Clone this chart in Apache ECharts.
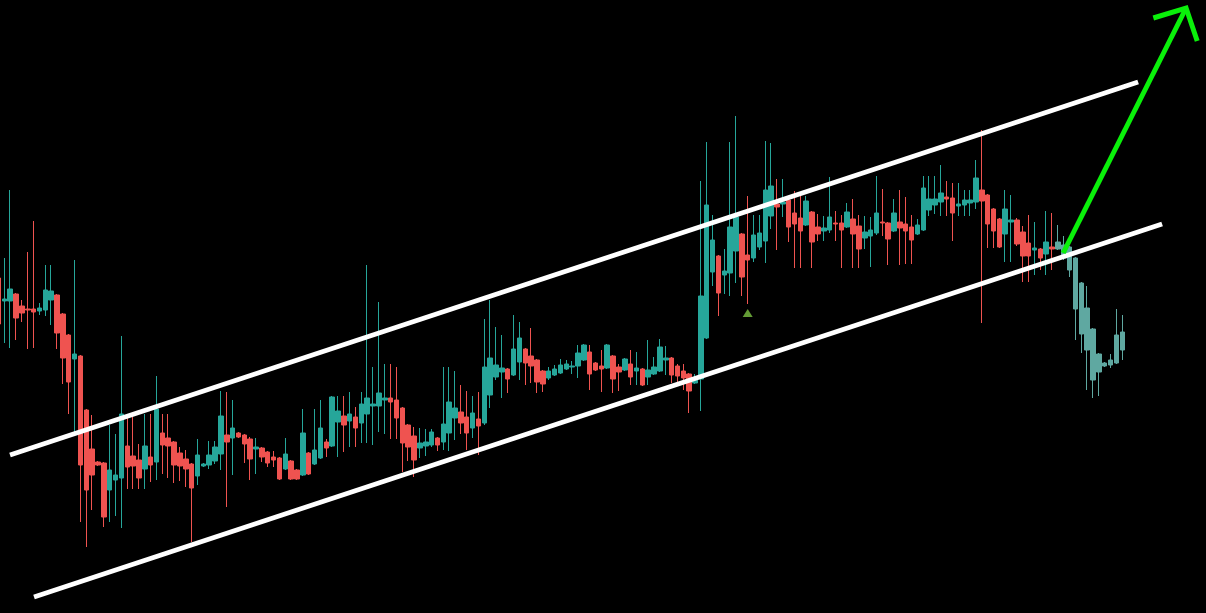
<!DOCTYPE html>
<html>
<head>
<meta charset="utf-8">
<style>
html,body{margin:0;padding:0;background:#000;}
#chart{width:1206px;height:613px;}
</style>
<script src="https://cdn.jsdelivr.net/npm/echarts@6/dist/echarts.min.js"></script>
</head>
<body>
<div id="chart"></div>
<script>
// Candle values (price units)
const opens = [335,312,312,319,307,304,304,302,303,313,
318,299,278,254,257,203,164,151,150,123,
133,135,167,157,153,144,156,151,180,175,
171,160,154,149,137,147,148,152,159,178,
175,180,178,174,164,165,161,156,155,144,
152,143,138,160,149,155,171,167,191,197,
192,196,190,199,207,207,213,215,213,205,
188,177,165,167,168,175,171,180,195,201,
196,185,194,190,218,236,241,244,238,251,
264,257,253,242,235,238,240,244,246,247,
253,261,250,247,245,257,246,243,249,242,
244,236,239,242,253,255,247,242,239,230,
234,275,341,357,338,340,362,379,358,355,
366,372,397,409,409,413,400,395,388,401,
386,382,383,390,390,386,394,387,375,377,
380,391,390,382,391,389,386,379,383,403,
408,411,416,415,407,408,410,411,423,418,
404,394,379,391,393,381,370,363,364,359,
366,364,368,366,355,330,305,284,259,250,
248,250,263];
const closes = [289,314,324,295,300,303,301,305,323,322,
280,255,231,259,148,123,138,148,96,143,
138,199,146,147,135,167,148,204,168,167,
148,147,144,125,158,149,158,166,197,171,
185,176,169,154,166,156,150,153,134,159,
134,134,180,139,163,185,165,216,202,188,
199,185,209,215,209,220,215,211,195,170,
166,153,170,171,181,168,189,211,205,190,
180,200,187,246,255,248,245,234,264,275,
250,247,231,229,242,244,248,249,247,260,
268,239,243,244,268,234,241,254,236,245,
228,243,246,266,255,238,237,235,222,234,
317,408,373,320,342,386,396,336,353,378,
380,423,427,406,411,386,389,382,412,371,
379,385,396,389,383,401,379,364,381,383,
400,390,374,400,385,382,373,388,425,414,
414,420,414,400,409,413,413,435,412,389,
382,366,404,393,369,357,357,365,355,371,
364,371,355,343,304,279,263,233,241,247,
253,278,281];
const lows = [283,270,265,273,291,264,265,298,297,288,
264,229,199,180,91,66,103,147,86,91,
97,85,124,124,124,124,131,133,139,135,
130,132,126,71,128,146,144,149,143,106,
138,175,150,133,139,151,146,146,133,143,
133,133,137,138,148,154,156,166,156,161,
166,166,170,170,168,181,179,174,174,141,
152,136,155,157,166,162,163,162,173,179,
163,175,158,188,205,233,215,220,237,233,
228,230,220,221,233,237,239,243,239,235,
252,223,242,221,244,220,222,242,228,228,
227,228,238,241,238,230,227,223,200,229,
202,274,327,297,319,317,330,317,309,351,
363,350,384,363,396,371,345,345,387,345,
372,372,380,372,345,385,345,345,364,346,
378,377,348,381,348,349,349,378,382,397,
399,397,397,372,397,397,397,404,290,365,
365,365,351,351,367,331,331,338,343,338,
343,363,353,336,273,260,223,215,217,246,
245,249,253];
const highs = [339,355,423,320,313,361,392,310,348,348,
319,300,279,353,258,204,198,152,151,188,
179,277,196,196,169,199,199,237,199,199,
172,166,163,150,174,150,172,172,222,221,
213,181,179,176,175,166,162,162,156,175,
153,144,204,161,204,213,174,217,217,217,
221,206,221,348,246,311,249,249,246,206,
189,186,185,184,184,176,246,246,242,228,
222,217,221,294,313,286,278,245,298,291,
265,285,254,243,246,248,254,253,252,268,
269,268,251,263,269,258,249,255,263,261,
245,273,256,274,267,256,249,249,240,239,
432,471,398,358,364,471,497,380,417,398,
398,472,470,434,434,414,422,418,417,402,
399,397,436,402,398,410,414,398,397,396,
437,424,391,414,423,416,398,394,437,437,
437,448,432,430,430,423,423,453,483,419,
405,395,423,418,395,387,398,391,365,402,
400,388,377,367,356,331,327,285,260,251,
259,304,298];

// Visible bar-index window (first bar is partly cut off at the left edge)
const xMin = 0.257;
const xMax = 206.3;
const fadedFrom = 181;           // last candles drawn in lighter colours

// Signal marker (bar index, price)
const signalIndex = [128];
const signalValue = [300];

// Drawn channel & arrow (bar index, price)
const upperLine = [[1.97,158],[194.7,531]];
const lowerLine = [[6.07,16],[198.8,389]];
const arrowShaft = [[181.9,360],[202.9,605]];
const arrowHead = [[197.3,595],[202.9,605],[204.8,572]];

const candleData = opens.map((o, i) => {
  const item = { value: [i, o, closes[i], lows[i], highs[i]] };
  if (i >= fadedFrom) {
    item.itemStyle = { color: '#5fa8a1', color0: '#f46a6a', borderColor: '#5fa8a1', borderColor0: '#f46a6a' };
  }
  return item;
});

const chart = echarts.init(document.getElementById('chart'));
chart.setOption({
  backgroundColor: '#000000',
  animation: false,
  grid: { left: 0, right: 0, top: 0, bottom: 0 },
  xAxis: [{ type: 'value', min: xMin, max: xMax, show: false, splitLine: { show: false } }],
  yAxis: [{ type: 'value', min: 0, max: 613, show: false, splitLine: { show: false } }],
  series: [
    {
      type: 'candlestick',
      data: candleData,
      encode: { x: 0, y: [1, 2, 3, 4] },
      barWidth: 5,
      clip: true,
      itemStyle: {
        color: '#26a69a', color0: '#ef5350',
        borderColor: '#26a69a', borderColor0: '#ef5350', borderWidth: 1
      }
    },
    {
      type: 'scatter',
      data: signalIndex.map((idx, i) => [idx, signalValue[i]]),
      symbol: 'triangle',
      symbolSize: [10, 8],
      itemStyle: { color: '#7cc242' }
    },
    {
      type: 'lines',
      coordinateSystem: 'cartesian2d',
      polyline: true,
      lineStyle: { color: '#ffffff', width: 5, opacity: 1 },
      data: [{ coords: upperLine }, { coords: lowerLine }],
      z: 5
    },
    {
      type: 'lines',
      coordinateSystem: 'cartesian2d',
      polyline: true,
      lineStyle: { color: '#0af00a', width: 5, opacity: 1 },
      data: [{ coords: arrowShaft }, { coords: arrowHead }],
      z: 6
    }
  ]
});
</script>
</body>
</html>
